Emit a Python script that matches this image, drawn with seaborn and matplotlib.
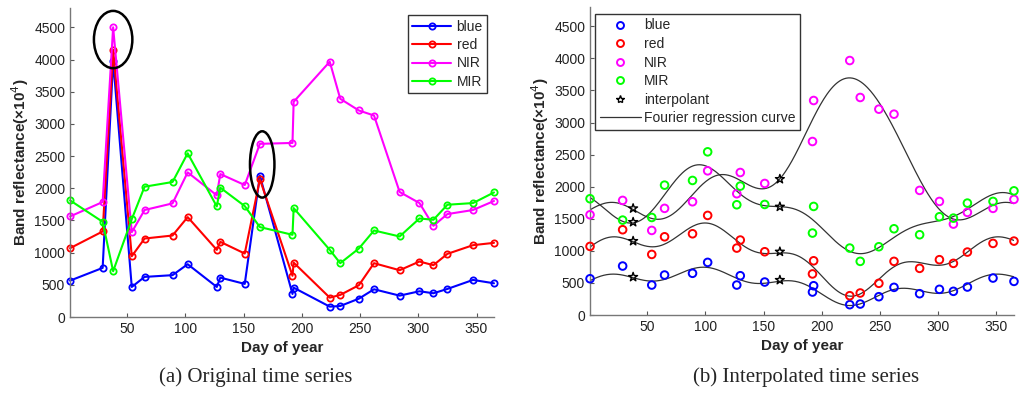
import numpy as np
import pandas as pd
import matplotlib
matplotlib.use("Agg")
import matplotlib.pyplot as plt
from matplotlib.patches import Ellipse
from matplotlib.lines import Line2D
import seaborn as sns

sns.set_style("white")
plt.rcParams['font.family'] = ['Liberation Sans', 'DejaVu Sans']

# Data
days = [1, 29, 38, 54, 65, 89, 102, 127, 130, 151, 164, 192, 193,
        224, 233, 249, 262, 284, 301, 313, 325, 347, 365]
blue = [565, 763, 3980, 467, 623, 650, 820, 467, 612, 514, 2195, 358, 456,
        161, 171, 285, 431, 332, 400, 369, 436, 576, 524]
red = [1069, 1329, 4150, 944, 1219, 1266, 1552, 1043, 1168, 986, 2140, 640, 845,
       301, 343, 494, 836, 727, 862, 805, 981, 1116, 1152]
nir = [1562, 1786, 4500, 1318, 1662, 1765, 2247, 1890, 2221, 2050, 2690, 2704, 3343,
       3966, 3390, 3208, 3130, 1942, 1770, 1417, 1599, 1662, 1802]
mir = [1812, 1479, 711, 1520, 2024, 2097, 2543, 1718, 2009, 1723, 1397, 1277, 1692,
       1043, 836, 1064, 1344, 1251, 1531, 1510, 1744, 1770, 1935]
bands = ["blue", "red", "NIR", "MIR"]
band_colors = ["#0000ff", "#ff0000", "#ff00ff", "#00ff00"]

# cloudy observations replaced by interpolants
cloudy_days = [38, 164]
interp_blue = [592, 545]
interp_red = [1152, 986]
interp_nir = [1661, 2118]
interp_mir = [1448, 1687]

yticks = list(range(0, 5000, 500))
xticks = [50, 100, 150, 200, 250, 300, 350]

series = dict(zip(bands, [blue, red, nir, mir]))
interp = dict(zip(bands, [interp_blue, interp_red, interp_nir, interp_mir]))

df = pd.concat([pd.DataFrame({"day": days, "value": v, "band": b}) for b, v in series.items()])
clean = df[~df["day"].isin(cloudy_days)]
stars = pd.concat([pd.DataFrame({"day": cloudy_days, "value": v, "band": b}) for b, v in interp.items()])


def design(t, w, nharm):
    cols = [np.ones_like(t)]
    for k in range(1, nharm + 1):
        cols += [np.cos(k * w * t), np.sin(k * w * t)]
    return np.column_stack(cols)


def fourier_fit(x, y, xs, nharm=4):
    # Fourier series with free base frequency (like a fourierN fit), w by grid search
    x = np.asarray(x, float)
    y = np.asarray(y, float)
    best = None
    for w in np.linspace(2 * np.pi / 700, 2 * np.pi / 300, 400):
        A = design(x, w, nharm)
        coef, *_ = np.linalg.lstsq(A, y, rcond=None)
        err = np.sum((A @ coef - y) ** 2)
        if best is None or err < best[0]:
            best = (err, w, coef)
    return design(xs, best[1], nharm) @ best[2]


fig = plt.figure(figsize=(10.24, 3.94), dpi=100)
ax1 = fig.add_axes([0.0684, 0.1954, 0.414, 0.7843])
ax2 = fig.add_axes([0.5762, 0.2005, 0.414, 0.7817])

# (a) original series
sns.lineplot(data=df, x="day", y="value", hue="band", palette=band_colors, hue_order=bands,
             marker="o", markersize=4.5, markerfacecolor="none", markeredgewidth=1.3,
             linewidth=1.5, sort=False, estimator=None, ax=ax1, legend=False)
for m in ax1.lines:
    m.set_markeredgecolor(m.get_color())
    m.set_clip_on(False)

ax1.add_patch(Ellipse((days[2], 4310), 33, 890, fill=False, ec="black", lw=1.8, zorder=5))
ax1.add_patch(Ellipse((days[10] + 2, 2370), 21, 1030, fill=False, ec="black", lw=1.8, zorder=5))

h1 = [Line2D([], [], color=c, lw=1.5, marker="o", markersize=4.5, mfc="none", mew=1.3)
      for c in band_colors]
leg1 = ax1.legend(h1, bands, loc="upper right", bbox_to_anchor=(0.99, 0.985), fontsize=10,
                  frameon=True, fancybox=False, edgecolor="black", handlelength=2.8,
                  labelspacing=0.32, borderpad=0.3, handletextpad=0.4, borderaxespad=0.2)
leg1.get_frame().set_linewidth(1.0)

# (b) interpolated series
xs = np.linspace(min(days), max(days), 400)
for b in bands:
    sub = clean[clean["band"] == b]
    curve = pd.DataFrame({"day": xs, "value": fourier_fit(sub["day"], sub["value"], xs)})
    sns.lineplot(data=curve, x="day", y="value", color="#333333", lw=0.9, ax=ax2)
for b, c in zip(bands, band_colors):
    sns.scatterplot(data=clean[clean["band"] == b], x="day", y="value", marker="o", s=30,
                    facecolor="none", edgecolor=c, linewidth=1.4, ax=ax2, zorder=4,
                    clip_on=False)
sns.scatterplot(data=stars, x="day", y="value", marker="*", s=45, color="none",
                edgecolor="black", linewidth=1.0, ax=ax2, zorder=6)

h2 = [Line2D([], [], ls="none", marker="o", markersize=5, mfc="none", mec=c, mew=1.4)
      for c in band_colors]
h2 += [Line2D([], [], ls="none", marker="*", markersize=6, mfc="none", mec="black", mew=1.0),
       Line2D([], [], color="#333333", lw=0.9)]
leg2 = ax2.legend(h2, bands + ["interpolant", "Fourier regression curve"], loc="upper left",
                  bbox_to_anchor=(0.003, 0.99), fontsize=10, frameon=True, fancybox=False,
                  edgecolor="black", handlelength=3.0, labelspacing=0.33, borderpad=0.3,
                  handletextpad=0.2, borderaxespad=0.3)
leg2.get_frame().set_linewidth(1.0)

for ax in (ax1, ax2):
    ax.set_xlim(min(days), max(days))
    ax.set_ylim(0, 4800)
    ax.set_xticks(xticks)
    ax.set_yticks(yticks)
    ax.tick_params(direction="in", length=3, width=0.8, labelsize=10, colors="#555555",
                   labelcolor="#222222", bottom=True, left=True)
    for s in ("top", "right"):
        ax.spines[s].set_visible(False)
    for s in ("left", "bottom"):
        ax.spines[s].set_color("#777777")
        ax.spines[s].set_linewidth(1.0)
    ax.set_xlabel("Day of year", fontsize=11, fontweight="bold", labelpad=4)
    ax.set_ylabel("Band reflectance(\u00d710$^4$)", fontsize=11, fontweight="bold", labelpad=2)

fig.text(0.2495, 0.043, "(a) Original time series", ha="center", va="center", fontsize=15,
         family=["Liberation Serif", "DejaVu Serif"])
fig.text(0.787, 0.043, "(b) Interpolated time series", ha="center", va="center", fontsize=15,
         family=["Liberation Serif", "DejaVu Serif"])

fig.savefig("out.png", dpi=100)
